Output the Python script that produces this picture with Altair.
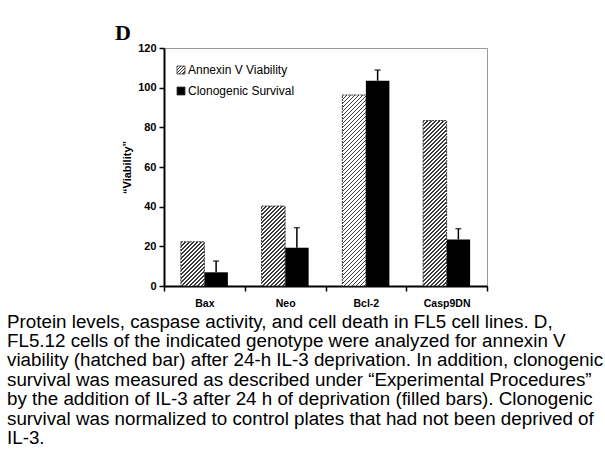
import altair as alt

# ---- data ----
genotypes = ["Bax", "Neo", "Bcl-2", "Casp9DN"]
series = ["Annexin V Viability", "Clonogenic Survival"]
annexin = [22.3, 40.3, 96.3, 83.4]
clonogenic = [6.9, 19.3, 103.5, 23.5]
clonogenic_err = [5.7, 10.1, 5.4, 5.4]
y_ticks = [0, 20, 40, 60, 80, 100, 120]
caption = [
    "Protein levels, caspase activity, and cell death in FL5 cell lines. D,",
    "FL5.12 cells of the indicated genotype were analyzed for annexin V",
    "viability (hatched bar) after 24-h IL-3 deprivation. In addition, clonogenic",
    "survival was measured as described under \u201cExperimental Procedures\u201d",
    "by the addition of IL-3 after 24 h of deprivation (filled bars). Clonogenic",
    "survival was normalized to control plates that had not been deprived of",
    "IL-3.",
]

# ---- layout ----
W, H = 323, 238
PAD = {"left": 164, "top": 48, "right": 605 - 164 - W, "bottom": 454 - 48 - H}
YMAX = 120
OFF_PAD = 0.718
BAR_W = (W / len(genotypes)) / (2 + 2 * OFF_PAD)
FONT = "Liberation Sans"


def hatch(w, h, period=4.0, frac=0.4, ink="#3a3a3a", paper="white"):
    """Diagonal '////' hatching as a linear gradient with hard stops."""
    L = w + h
    k = L / (w * w + h * h)
    stops = []
    i = 0
    while i * period < L:
        a = i * period / L
        b = min((i * period + period * frac) / L, 1)
        c = min((i + 1) * period / L, 1)
        stops += [
            {"offset": a, "color": ink},
            {"offset": b, "color": ink},
            {"offset": b, "color": paper},
            {"offset": c, "color": paper},
        ]
        i += 1
    return {"gradient": "linear", "x1": 0, "y1": 0, "x2": k * w, "y2": k * h, "stops": stops}


rows = []
for g, a, c, e in zip(genotypes, annexin, clonogenic, clonogenic_err):
    rows.append({"genotype": g, "series": series[0], "value": a, "hi": None,
                 "hatch": hatch(BAR_W, a * H / YMAX)})
    rows.append({"genotype": g, "series": series[1], "value": c, "hi": c + e,
                 "hatch": None})
data = alt.Data(values=rows)

x_axis = alt.Axis(title=None, labelAngle=0, tickBand="extent", domainColor="black",
                  domainWidth=2, tickColor="black", tickWidth=1.5, tickSize=5,
                  labelFont=FONT, labelFontWeight="bold", labelFontSize=10.5,
                  labelColor="black", labelPadding=7)
x_enc = alt.X("genotype:N", sort=genotypes,
              scale=alt.Scale(paddingInner=0, paddingOuter=0), axis=x_axis)
xo_enc = alt.XOffset("series:N", sort=series,
                     scale=alt.Scale(domain=series, paddingInner=0, paddingOuter=OFF_PAD))
y_scale = alt.Scale(domain=[0, YMAX], nice=False)
y_axis = alt.Axis(values=y_ticks, grid=False, domainColor="black",
                  domainWidth=2, tickColor="black", tickWidth=1.5, tickSize=5,
                  labelFont=FONT, labelFontWeight="bold", labelFontSize=11,
                  labelColor="black", labelPadding=3, labelOverlap=False,
                  title="\u201cViability\u201d", titleFont=FONT, titleFontWeight="bold",
                  titleFontSize=11, titleColor="black", titlePadding=5)


def y_of(field):
    return alt.Y(field, type="quantitative", scale=y_scale, axis=y_axis)


base = alt.Chart(data)

bars = base.mark_bar(aria=False).encode(
    x=x_enc, xOffset=xo_enc, y=y_of("value"),
    color=alt.Color("series:N", scale=alt.Scale(domain=series, range=["white", "black"]),
                    legend=None),
)

hatched = base.mark_bar(aria=False, stroke="#333", strokeWidth=1, strokeDash=[2, 1]).encode(
    x=x_enc, xOffset=xo_enc, y=y_of("value"),
    fill=alt.Fill("hatch:N", scale=None),
).transform_filter(alt.datum.series == series[0])

err = base.mark_rule(color="black", strokeWidth=1.5).encode(
    x=x_enc, xOffset=xo_enc, y=y_of("value"), y2="hi:Q",
).transform_filter(alt.datum.series == series[1])

cap = base.mark_tick(color="black", thickness=1.5, size=6).encode(
    x=x_enc, xOffset=xo_enc, y=y_of("hi"),
).transform_filter(alt.datum.series == series[1])

# ---- hand-drawn legend (hatched swatch is not possible in a native legend) ----
legend_layers = []
legend_fills = [hatch(8, 8, period=3.2, frac=0.4), "black"]
for i, (name, fill) in enumerate(zip(series, legend_fills)):
    d = alt.Data(values=[{"label": name}])
    ly = 22 + 21 * i
    legend_layers.append(
        alt.Chart(d).mark_square(size=64, fill=fill, stroke="#333", strokeWidth=0.8,
                                 opacity=1, fillOpacity=1).encode(
            x=alt.value(17), y=alt.value(ly))
    )
    legend_layers.append(
        alt.Chart(d).mark_text(font=FONT, fontSize=12, align="left", baseline="middle",
                               color="black").encode(
            text="label:N", x=alt.value(24), y=alt.value(ly))
    )

panel = alt.Chart(alt.Data(values=[{"t": "D"}])).mark_text(
    font="Liberation Serif", fontWeight="bold", fontSize=22, align="left",
    baseline="alphabetic", color="black",
).encode(text="t:N", x=alt.value(-49), y=alt.value(-8))

chart = alt.layer(bars, hatched, err, cap, *legend_layers, panel).properties(
    width=W, height=H,
    autosize=alt.AutoSizeParams(type="none"),
    padding=PAD,
    background="white",
    title=alt.TitleParams(
        text=caption, orient="bottom", anchor="start", frame="group",
        dx=-157, offset=4, font=FONT, fontSize=18.8, fontWeight="normal",
        lineHeight=19.4, color="black", baseline="top",
    ),
).configure_view(stroke="#9a9a9a", strokeWidth=1)

chart.save("out.html", embed_options={"renderer": "svg", "actions": False})
